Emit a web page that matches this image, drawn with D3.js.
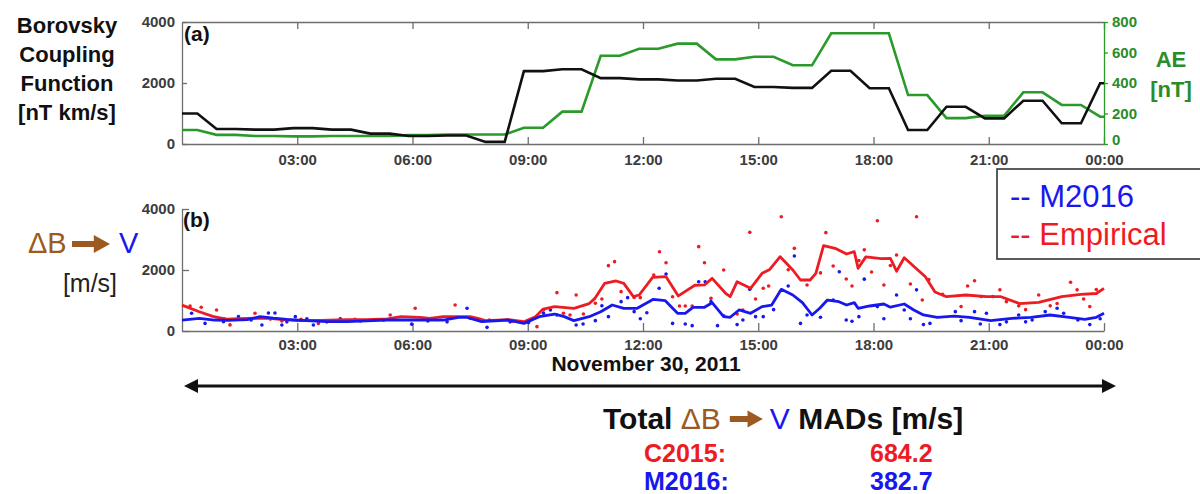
<!DOCTYPE html>
<html>
<head>
<meta charset="utf-8">
<script src="https://cdn.jsdelivr.net/npm/d3@7"></script>
<style>
  body { margin: 0; background: #fff; }
  svg { display: block; font-family: "Liberation Sans", Arial, Helvetica, sans-serif; }
</style>
</head>
<body>
<div id="chart"></div>
<script>
// x axis: hours of Nov 30 2011 (24 = next 00:00)
const tickHours = [3, 6, 9, 12, 15, 18, 21, 24];
const tickLabels = ["03:00", "06:00", "09:00", "12:00", "15:00", "18:00", "21:00", "00:00"];

// panel (a) - hourly values, hour 0 .. 24
const hourSlots = [0, 1, 2, 3, 4, 5, 6, 7, 8, 9, 10, 11, 12, 13, 14, 15, 16, 17, 18, 19, 20, 21, 22, 23, 24];
const borovsky = [1000, 490, 470, 520, 470, 340, 260, 280, 70, 2390, 2450, 2160, 2120, 2080, 2140, 1870, 1840, 2400, 1830, 460, 1220, 840, 1420, 680, 1990];
const aeIndex = [92, 60, 52, 50, 52, 52, 58, 62, 62, 107, 212, 579, 625, 658, 555, 572, 516, 726, 726, 321, 170, 185, 339, 256, 179];
const borovskyTicks = [0, 2000, 4000];
const aeTicks = [0, 200, 400, 600, 800];

// panel (b) - [hour, m/s]
const empiricalLine = [[0, 850], [0.45, 630], [0.8, 480], [1.15, 390], [1.7, 415], [2.2, 420], [2.55, 380], [3, 340], [3.6, 350], [4.3, 370], [4.8, 370], [5.35, 400], [5.7, 470], [6.2, 450], [6.45, 415], [6.8, 470], [7.1, 470], [7.5, 470], [7.7, 415], [7.9, 340], [8.5, 370], [8.9, 305], [9.2, 470], [9.4, 720], [9.7, 800], [10.2, 740], [10.6, 900], [10.75, 1070], [11, 1560], [11.3, 1640], [11.5, 1560], [11.75, 1125], [11.9, 1180], [12.25, 1760], [12.6, 1780], [12.92, 1150], [13.35, 1500], [13.6, 1510], [13.8, 1727], [14.15, 1236], [14.27, 1125], [14.45, 1617], [14.8, 1400], [15.1, 1890], [15.3, 2020], [15.57, 2437], [15.9, 2000], [16.1, 1672], [16.35, 1672], [16.5, 1890], [16.7, 2800], [17, 2710], [17.3, 2525], [17.5, 2600], [17.6, 2055], [17.8, 2430], [18.2, 2370], [18.44, 2380], [18.6, 1960], [18.8, 2400], [19.35, 1780], [19.6, 1280], [19.9, 1125], [20.4, 1180], [20.95, 1125], [21.3, 1130], [21.8, 900], [22.3, 940], [22.9, 1125], [23.4, 1200], [23.8, 1230], [24, 1400]];
const m2016Line = [[0, 360], [0.45, 415], [0.85, 360], [1.2, 350], [1.7, 370], [2.03, 470], [2.38, 420], [2.73, 380], [3.25, 340], [3.77, 305], [4.3, 310], [4.8, 330], [5.33, 360], [5.94, 360], [6.8, 360], [7.2, 450], [7.4, 450], [7.8, 305], [8.5, 360], [8.9, 250], [9.3, 470], [9.7, 557], [9.95, 470], [10.2, 340], [10.6, 470], [10.9, 633], [11.2, 852], [11.5, 744], [11.85, 744], [12.27, 1040], [12.58, 995], [12.9, 580], [13.1, 580], [13.3, 777], [13.6, 777], [13.8, 928], [14.1, 470], [14.27, 450], [14.5, 690], [14.8, 580], [15.1, 800], [15.35, 852], [15.6, 1366], [15.9, 1180], [16.15, 928], [16.4, 525], [16.6, 744], [16.8, 1016], [17.1, 960], [17.3, 852], [17.5, 930], [17.6, 744], [17.9, 820], [18.27, 885], [18.44, 780], [18.8, 885], [19.05, 690], [19.3, 525], [19.66, 450], [20.1, 490], [20.5, 450], [21.05, 340], [21.6, 415], [22.1, 450], [22.6, 525], [23.1, 450], [23.5, 383], [23.8, 450], [24, 580]];
const empiricalDots = [[0.21, 820], [0.5, 780], [0.9, 690], [1.1, 400], [1.25, 200], [1.6, 380], [1.9, 580], [2.3, 390], [2.6, 330], [3.1, 380], [3.55, 250], [4, 330], [4.5, 380], [5, 360], [5.42, 525], [6.07, 744], [6.5, 410], [7.11, 852], [7.5, 420], [8, 360], [8.6, 320], [9.24, 142], [9.41, 690], [9.76, 1257], [9.93, 580], [10.1, 525], [10.26, 1180], [10.45, 555], [10.76, 908], [10.93, 1050], [11.1, 2142], [11.26, 2273], [11.43, 1290], [11.77, 1100], [11.93, 1093], [12.28, 1836], [12.43, 2600], [12.6, 2240], [12.77, 1125], [12.95, 820], [13.1, 820], [13.28, 820], [13.45, 2765], [13.6, 2240], [13.77, 1070], [14.1, 2000], [14.45, 555], [14.6, 690], [14.78, 3235], [14.93, 1050], [15.13, 1400], [15.27, 1475], [15.6, 3748], [15.78, 2010], [15.94, 2710], [16.27, 1510], [16.62, 1905], [16.76, 3224], [16.95, 2130], [17.29, 1705], [17.44, 1475], [17.62, 2310], [17.76, 2660], [17.95, 1935], [18.1, 3617], [18.27, 1508], [18.44, 2150], [18.6, 2490], [18.96, 1540], [19.12, 3748], [19.27, 1016], [19.44, 1690], [19.8, 1200], [20.28, 800], [20.45, 1475], [20.63, 1650], [20.8, 1130], [21.1, 1130], [21.29, 1350], [21.46, 962], [21.78, 825], [21.96, 700], [22.3, 1180], [22.6, 825], [22.78, 900], [23.13, 1600], [23.3, 1350], [23.47, 1050], [23.63, 800], [23.8, 1360]];
const m2016Dots = [[0.25, 580], [0.6, 250], [1.08, 305], [1.47, 470], [1.8, 360], [2.08, 197], [2.25, 590], [2.42, 590], [2.6, 197], [2.73, 300], [2.95, 470], [3.25, 400], [3.42, 197], [3.77, 300], [4.12, 400], [4.64, 330], [5.25, 360], [5.98, 225], [6.4, 330], [6.9, 300], [7.42, 744], [7.94, 120], [8.54, 300], [9.02, 275], [9.41, 580], [9.59, 690], [9.76, 525], [10.26, 197], [10.44, 230], [10.76, 340], [10.93, 830], [11.1, 470], [11.43, 962], [11.6, 1093], [11.77, 635], [11.93, 400], [12.1, 600], [12.42, 1400], [12.6, 1870], [12.77, 250], [13.1, 230], [13.28, 175], [13.45, 1617], [13.62, 1617], [13.77, 962], [13.94, 175], [14.1, 500], [14.45, 210], [14.6, 360], [14.78, 1366], [14.93, 470], [15.13, 470], [15.4, 700], [15.78, 1475], [15.94, 2460], [16.1, 250], [16.27, 525], [16.62, 450], [16.95, 1016], [17.11, 1945], [17.29, 360], [17.44, 320], [17.62, 470], [17.76, 1700], [18.1, 800], [18.27, 400], [18.6, 1180], [18.8, 690], [18.96, 400], [19.12, 1350], [19.3, 210], [19.47, 250], [20.13, 635], [20.28, 340], [20.63, 635], [20.78, 230], [20.94, 580], [21.29, 210], [21.46, 300], [21.78, 525], [21.96, 300], [22.13, 360], [22.47, 635], [22.78, 744], [22.95, 580], [23.32, 360], [23.63, 210], [23.9, 400]];
const speedTicks = [0, 2000, 4000];

// MAD summary
const madModels = ["C2015:", "M2016:"];
const madValues = ["684.2", "382.7"];

const cfg = {
  width: 1200, height: 494,
  left: 182, right: 1104,
  a: { top: 22, bottom: 144 },
  b: { top: 209, bottom: 331 },
  tickText: "#3c3c3c", axisLine: "#6e6e6e",
  black: "#111", green: "#2a9a2a", greenText: "#2a8c2a",
  red: "#ee1c22", blue: "#1818ee", brown: "#9c5a20"
};

const svg = d3.select("#chart").append("svg")
  .attr("width", cfg.width)
  .attr("height", cfg.height);

const x = d3.scaleLinear().domain([0, 24]).range([cfg.left, cfg.right]);
const yA = d3.scaleLinear().domain([0, 4000]).range([cfg.a.bottom, cfg.a.top]);
const yAE = d3.scaleLinear().domain([0, 800]).range([cfg.a.bottom, cfg.a.top]);
const yB = d3.scaleLinear().domain([0, 4000]).range([cfg.b.bottom, cfg.b.top]);

// hourly value held over [h-0.1, h+0.4], ramps between hours
function stepPoints(values) {
  let pts = [];
  hourSlots.forEach((h, i) => {
    pts.push([Math.max(0, h - 0.1), values[i]]);
    pts.push([Math.min(24, h + 0.4), values[i]]);
  });
  return pts;
}

function styleAxis(g, color, textColor) {
  g.attr("font-family", null).attr("font-size", null);
  g.select(".domain").attr("stroke", color).attr("stroke-width", 1.3);
  g.selectAll(".tick line").attr("stroke", color).attr("stroke-width", 1.3);
  g.selectAll(".tick text")
    .attr("fill", textColor)
    .style("font-size", "15px")
    .style("font-weight", "bold");
}

// ---------- panel (a) ----------
svg.append("clipPath").attr("id", "clipA")
  .append("rect")
  .attr("x", cfg.left).attr("y", cfg.a.top)
  .attr("width", cfg.right - cfg.left).attr("height", cfg.a.bottom - cfg.a.top);

svg.append("g")
  .attr("transform", `translate(0,${cfg.a.bottom})`)
  .call(d3.axisBottom(x).tickValues(tickHours).tickFormat((d, i) => tickLabels[i])
    .tickSize(-7).tickSizeOuter(0).tickPadding(10))
  .call(g => styleAxis(g, cfg.axisLine, cfg.tickText));

svg.append("g")
  .attr("transform", `translate(0,${cfg.a.top})`)
  .call(d3.axisTop(x).tickValues(tickHours).tickFormat("").tickSize(-7).tickSizeOuter(0))
  .call(g => styleAxis(g, cfg.axisLine, cfg.tickText));

svg.append("g")
  .attr("transform", `translate(${cfg.left},0)`)
  .call(d3.axisLeft(yA).tickValues(borovskyTicks).tickFormat(d3.format("d"))
    .tickSize(-5).tickSizeOuter(0).tickPadding(7))
  .call(g => styleAxis(g, cfg.axisLine, cfg.tickText));

svg.append("g")
  .attr("transform", `translate(${cfg.right},0)`)
  .call(d3.axisRight(yAE).tickValues(aeTicks).tickFormat(d3.format("d"))
    .tickSize(4).tickSizeOuter(0).tickPadding(4))
  .call(g => styleAxis(g, cfg.green, cfg.greenText))
  .call(g => g.selectAll(".tick text").filter(d => d === 0).attr("dy", "0.05em"));

const lineA = d3.line().x(d => x(d[0])).y(d => yA(d[1]));
const lineAE = d3.line().x(d => x(d[0])).y(d => yAE(d[1]));

svg.append("path")
  .datum(stepPoints(aeIndex))
  .attr("clip-path", "url(#clipA)")
  .attr("d", lineAE)
  .attr("fill", "none")
  .attr("stroke", cfg.green)
  .attr("stroke-width", 2.6);

svg.append("path")
  .datum(stepPoints(borovsky))
  .attr("clip-path", "url(#clipA)")
  .attr("d", lineA)
  .attr("fill", "none")
  .attr("stroke", cfg.black)
  .attr("stroke-width", 2.6);

svg.append("text")
  .attr("x", cfg.left + 2).attr("y", cfg.a.top + 19)
  .attr("font-size", 21).attr("font-weight", "bold").attr("fill", "#111")
  .text("(a)");

// left title
["Borovsky", "Coupling", "Function", "[nT km/s]"].forEach((t, i) => {
  svg.append("text")
    .attr("x", 67).attr("y", 33 + i * 29)
    .attr("text-anchor", "middle")
    .attr("font-size", 22).attr("font-weight", "bold").attr("fill", "#111")
    .text(t);
});
// right title
["AE", "[nT]"].forEach((t, i) => {
  svg.append("text")
    .attr("x", 1171).attr("y", 67 + i * 30)
    .attr("text-anchor", "middle")
    .attr("font-size", 22).attr("font-weight", "bold").attr("fill", cfg.greenText)
    .text(t);
});

// ---------- panel (b) ----------
svg.append("g")
  .attr("transform", `translate(0,${cfg.b.bottom})`)
  .call(d3.axisBottom(x).tickValues(tickHours).tickFormat((d, i) => tickLabels[i])
    .tickSize(-8).tickSizeOuter(0).tickPadding(8))
  .call(g => styleAxis(g, cfg.axisLine, cfg.tickText));

svg.append("g")
  .attr("transform", `translate(${cfg.left},0)`)
  .call(d3.axisLeft(yB).tickValues(speedTicks).tickFormat(d3.format("d"))
    .tickSize(-7).tickSizeOuter(0).tickPadding(7))
  .call(g => styleAxis(g, cfg.axisLine, cfg.tickText));

const lineB = d3.line().x(d => x(d[0])).y(d => yB(d[1]));

svg.append("g").selectAll("circle")
  .data(empiricalDots)
  .join("circle")
  .attr("cx", d => x(d[0])).attr("cy", d => yB(d[1]))
  .attr("r", 1.8).attr("fill", cfg.red);

svg.append("g").selectAll("circle")
  .data(m2016Dots)
  .join("circle")
  .attr("cx", d => x(d[0])).attr("cy", d => yB(d[1]))
  .attr("r", 1.8).attr("fill", cfg.blue);

svg.append("path")
  .datum(empiricalLine)
  .attr("d", lineB)
  .attr("fill", "none")
  .attr("stroke", cfg.red)
  .attr("stroke-width", 2.8)
  .attr("stroke-linejoin", "round");

svg.append("path")
  .datum(m2016Line)
  .attr("d", lineB)
  .attr("fill", "none")
  .attr("stroke", cfg.blue)
  .attr("stroke-width", 2.8)
  .attr("stroke-linejoin", "round");

svg.append("text")
  .attr("x", cfg.left + 1).attr("y", cfg.b.top + 18)
  .attr("font-size", 21).attr("font-weight", "bold").attr("fill", "#111")
  .text("(b)");

// brown arrow shape used in the labels
function arrowRight(x0, yc, len, shaft, head) {
  let hl = head * 0.9;
  return `M${x0},${yc - shaft / 2} H${x0 + len - hl} V${yc - head / 2} L${x0 + len},${yc} ` +
    `L${x0 + len - hl},${yc + head / 2} V${yc + shaft / 2} H${x0} Z`;
}

// left title of (b)
svg.append("text")
  .attr("x", 28).attr("y", 253)
  .attr("font-size", 29).attr("fill", cfg.brown)
  .text("ΔB");
svg.append("path")
  .attr("d", arrowRight(72, 244, 38, 6, 18))
  .attr("fill", cfg.brown);
svg.append("text")
  .attr("x", 119).attr("y", 253)
  .attr("font-size", 29).attr("fill", cfg.blue)
  .text("V");
svg.append("text")
  .attr("x", 90).attr("y", 292)
  .attr("text-anchor", "middle")
  .attr("font-size", 25).attr("fill", "#222")
  .text("[m/s]");

// legend
svg.append("rect")
  .attr("x", 997).attr("y", 169)
  .attr("width", 215).attr("height", 90)
  .attr("fill", "#fff").attr("stroke", "#333").attr("stroke-width", 1.6);
svg.append("text")
  .attr("x", 1010).attr("y", 207)
  .attr("font-size", 31).attr("fill", cfg.blue)
  .text("-- M2016");
svg.append("text")
  .attr("x", 1010).attr("y", 245)
  .attr("font-size", 31).attr("fill", cfg.red)
  .text("-- Empirical");

// date
svg.append("text")
  .attr("x", 646).attr("y", 371)
  .attr("text-anchor", "middle")
  .attr("font-size", 21).attr("font-weight", "bold").attr("fill", "#111")
  .text("November 30, 2011");

// double arrow
const arrowY = 386;
svg.append("line")
  .attr("x1", x(0) + 10).attr("x2", x(24) + 2)
  .attr("y1", arrowY).attr("y2", arrowY)
  .attr("stroke", "#111").attr("stroke-width", 3);
svg.append("path")
  .attr("d", `M${x(0) + 2},${arrowY} L${x(0) + 16},${arrowY - 7} L${x(0) + 16},${arrowY + 7} Z`)
  .attr("fill", "#111");
svg.append("path")
  .attr("d", `M${x(24) + 12},${arrowY} L${x(24) - 2},${arrowY - 7} L${x(24) - 2},${arrowY + 7} Z`)
  .attr("fill", "#111");

// "Total dB -> V MADs [m/s]" built piece by piece
let cx = 603;
const totalY = 429;
function piece(txt, color, weight) {
  let t = svg.append("text")
    .attr("x", cx).attr("y", totalY)
    .attr("font-size", 30).attr("font-weight", weight).attr("fill", color)
    .attr("xml:space", "preserve")
    .text(txt);
  cx += t.node().getComputedTextLength();
}
piece("Total ", "#111", "bold");
piece("ΔB", cfg.brown, "normal");
cx += 9;
svg.append("path").attr("d", arrowRight(cx, totalY - 10, 33, 6, 17)).attr("fill", cfg.brown);
cx += 40;
piece("V", cfg.blue, "normal");
piece(" MADs [m/s]", "#111", "bold");

madModels.forEach((m, i) => {
  let col = i === 0 ? cfg.red : cfg.blue;
  svg.append("text")
    .attr("x", 644).attr("y", 462 + i * 28)
    .attr("font-size", 25).attr("font-weight", "bold").attr("fill", col)
    .text(m);
  svg.append("text")
    .attr("x", 870).attr("y", 462 + i * 28)
    .attr("font-size", 25).attr("font-weight", "bold").attr("fill", col)
    .text(madValues[i]);
});
</script>
</body>
</html>
